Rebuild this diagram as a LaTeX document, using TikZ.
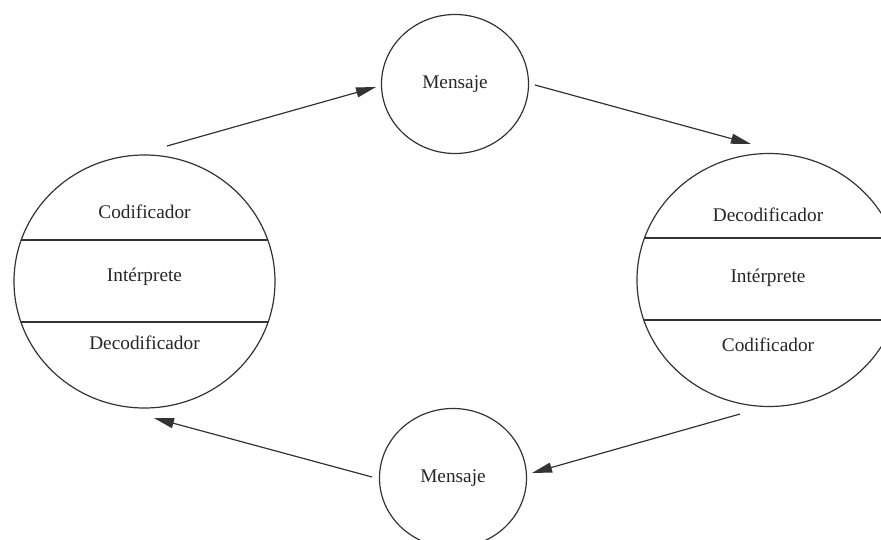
\documentclass[tikz,border=0pt]{standalone}
\usepackage{fontspec}
\setmainfont{Liberation Serif}
\usetikzlibrary{shapes.geometric,arrows.meta}
\begin{document}
\begin{tikzpicture}[x=1pt,y=-1pt,
  line width=1.2pt,
  every node/.style={font=\fontsize{19.3}{23}\selectfont, text=black!85},
  bigc/.style={draw=black!80, ellipse, minimum width=261pt, minimum height=253pt, inner sep=0pt},
  smallc/.style={draw=black!80, ellipse, minimum width=147pt, minimum height=139pt, inner sep=0pt},
  flow/.style={draw=black!80, -{Triangle[length=20pt,width=10pt]}},
  divider/.style={draw=black!80}]
\useasboundingbox (0,0) rectangle (881,540);
\clip (0,0) rectangle (881,540);
% big ellipses
\node[bigc] (L) at (144.5,281.5) {};
\node[bigc, minimum width=264pt] (R) at (769,280) {};
% dividers
\begin{scope}
  \clip (144.5,281.5) ellipse [x radius=130.5, y radius=126.5];
  \draw[divider] (0,240) -- (300,240);
  \draw[divider] (0,322) -- (300,322);
\end{scope}
\begin{scope}
  \clip (769,280) ellipse [x radius=132, y radius=126.5];
  \draw[divider] (620,238) -- (900,238);
  \draw[divider] (620,320) -- (900,320);
\end{scope}
% texts
\node (l1) at (144.5,212) {Codificador};
\node (l2) at (144.5,277) {Intérprete};
\node (l3) at (144.5,343) {Decodificador};
\node (r1) at (768,215) {Decodificador};
\node (r2) at (768,278) {Intérprete};
\node (r3) at (768,345) {Codificador};
% small circles
\node[smallc] (MT) at (455,84) {Mensaje};
\node[smallc] (MB) at (453,478) {Mensaje};
% arrows
\coordinate (a1s) at (167,146);
\coordinate (a1e) at (376,87);
\coordinate (a2s) at (535,85);
\coordinate (a2e) at (751,144);
\coordinate (a3s) at (740,414);
\coordinate (a3e) at (532,473);
\coordinate (a4s) at (372,477);
\coordinate (a4e) at (154,418);
\draw[flow] (a1s) -- (a1e);
\draw[flow] (a2s) -- (a2e);
\draw[flow] (a3s) -- (a3e);
\draw[flow] (a4s) -- (a4e);
\end{tikzpicture}
\end{document}
